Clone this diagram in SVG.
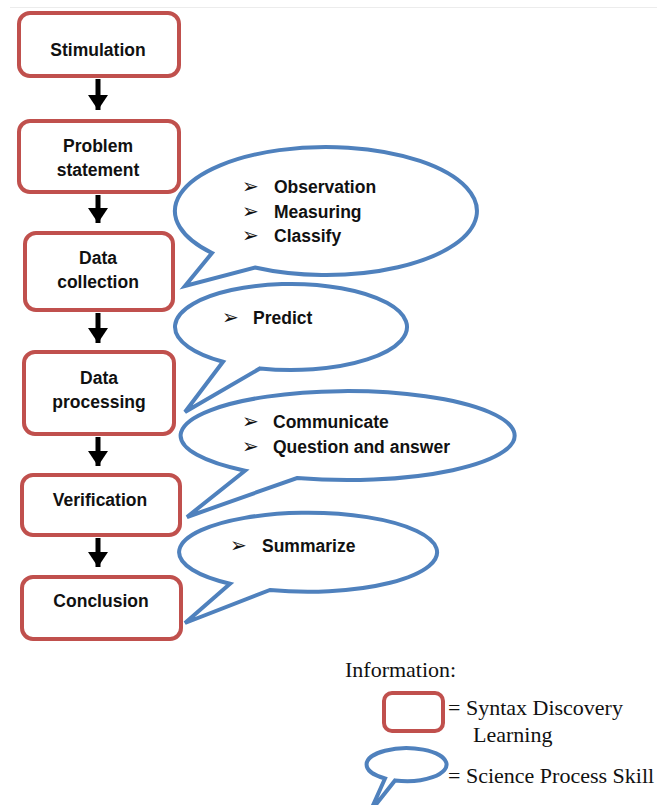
<svg xmlns="http://www.w3.org/2000/svg" width="657" height="805" viewBox="0 0 657 805">
<defs>
<style>
.box{fill:#fff;stroke:#C0504D;stroke-width:4}
.bub{fill:#fff;stroke:#4F81BD;stroke-width:4;stroke-linejoin:miter}
.lbl{font-family:"Liberation Sans",Arial,sans-serif;font-weight:bold;font-size:17.5px;fill:#111;text-anchor:middle}
.item{font-family:"Liberation Sans",Arial,sans-serif;font-weight:bold;font-size:17.5px;fill:#111}
.bul{font-family:"DejaVu Sans",sans-serif;font-size:20px;fill:#111}
.leg{font-family:"Liberation Serif","Times New Roman",serif;font-size:22px;fill:#111}
.shaft{stroke:#000;stroke-width:5}
</style>
<marker id="ah" markerWidth="4" markerHeight="4" refX="3" refY="2" orient="auto" markerUnits="strokeWidth">
<path d="M0,0 L3,2 L0,4 Z" fill="#000"/>
</marker>
</defs>
<rect width="657" height="805" fill="#fff"/>
<line x1="10" y1="7.5" x2="657" y2="7.5" stroke="#ececec" stroke-width="1"/>

<g id="connectors">
<line class="shaft" x1="98" y1="79" x2="98" y2="110" marker-end="url(#ah)"/>
<line class="shaft" x1="98" y1="195" x2="98" y2="223" marker-end="url(#ah)"/>
<line class="shaft" x1="98" y1="313" x2="98" y2="343" marker-end="url(#ah)"/>
<line class="shaft" x1="98" y1="437" x2="98" y2="466" marker-end="url(#ah)"/>
<line class="shaft" x1="98" y1="538" x2="98" y2="567" marker-end="url(#ah)"/>
</g>

<g id="stimulation">
<rect class="box" x="19" y="13" width="160" height="63" rx="11"/>
<text class="lbl" x="98" y="56">Stimulation</text>
</g>
<g id="problem-statement">
<rect class="box" x="19" y="121" width="160" height="71" rx="11"/>
<text class="lbl" x="98" y="152">Problem</text>
<text class="lbl" x="98" y="176">statement</text>
</g>
<g id="data-collection">
<rect class="box" x="25" y="233" width="148" height="77" rx="11"/>
<text class="lbl" x="98" y="264">Data</text>
<text class="lbl" x="98" y="288">collection</text>
</g>
<g id="data-processing">
<rect class="box" x="24" y="352" width="150" height="82" rx="11"/>
<text class="lbl" x="99" y="384">Data</text>
<text class="lbl" x="99" y="408">processing</text>
</g>
<g id="verification">
<rect class="box" x="22" y="475" width="158" height="60" rx="11"/>
<text class="lbl" x="100" y="506">Verification</text>
</g>
<g id="conclusion">
<rect class="box" x="22" y="577" width="159" height="62" rx="11"/>
<text class="lbl" x="101" y="607">Conclusion</text>
</g>

<g id="skills-collection">
<path class="bub" d="M212 253 L185 286 L255 267.5 A151 64 0 1 0 212 253 Z"/>
<text class="bul" x="242" y="193">➢</text>
<text class="item" x="274" y="193">Observation</text>
<text class="bul" x="242" y="218">➢</text>
<text class="item" x="274" y="218">Measuring</text>
<text class="bul" x="242" y="242">➢</text>
<text class="item" x="274" y="242">Classify</text>
</g>
<g id="skills-processing">
<path class="bub" d="M223 361.8 L185 412 L260 368.4 A116 43 0 1 0 223 361.8 Z"/>
<text class="bul" x="222" y="324">➢</text>
<text class="item" x="253" y="324">Predict</text>
</g>
<g id="skills-verification">
<path class="bub" d="M245 470.7 L187 517 L297 478 A167 44.5 0 1 0 245 470.7 Z"/>
<text class="bul" x="242" y="428">➢</text>
<text class="item" x="273" y="428">Communicate</text>
<text class="bul" x="242" y="453">➢</text>
<text class="item" x="273" y="453">Question and answer</text>
</g>
<g id="skills-conclusion">
<path class="bub" d="M230 583.7 L185 623 L270 590 A129 39.5 0 1 0 230 583.7 Z"/>
<text class="bul" x="230" y="552">➢</text>
<text class="item" x="262" y="552">Summarize</text>
</g>

<g id="legend">
<text class="leg" x="345" y="677">Information:</text>
<rect class="box" x="384" y="693" width="59" height="38" rx="8"/>
<text class="leg" x="448" y="715">= Syntax Discovery</text>
<text class="leg" x="473" y="742">Learning</text>
<path class="bub" d="M385 778.5 L370 812 L395 780.4 A40 16.5 0 1 0 385 778.5 Z"/>
<text class="leg" x="448" y="783">= Science Process Skill</text>
</g>
</svg>
